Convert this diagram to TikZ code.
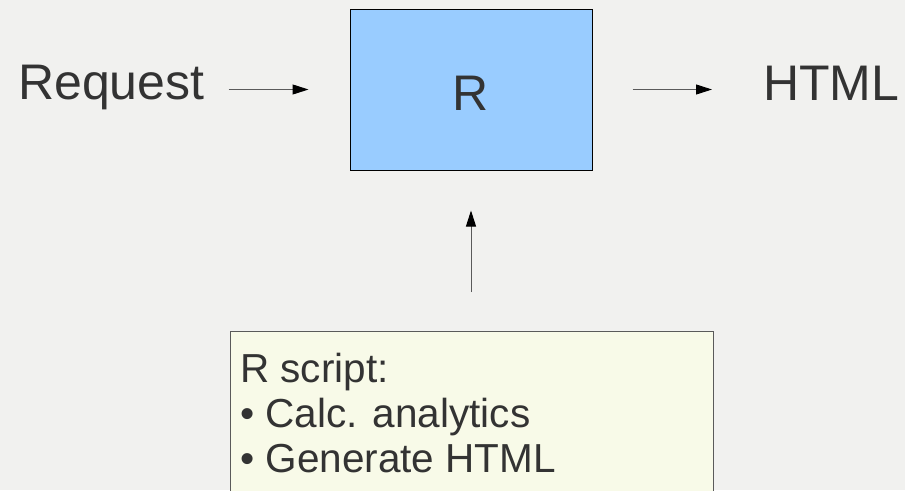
\documentclass[tikz,border=0pt]{standalone}
\usepackage{fontspec}
\setmainfont{Liberation Sans}
\usetikzlibrary{arrows.meta}
\definecolor{bgc}{RGB}{241,241,239}
\definecolor{rblue}{RGB}{153,204,255}
\definecolor{cream}{RGB}{248,250,232}
\definecolor{txt}{RGB}{51,51,51}
\definecolor{edge}{RGB}{90,90,90}
\tikzset{
  big/.style={font=\fontsize{50}{60}\selectfont, text=txt, inner sep=0pt},
  conn/.style={draw=edge, line width=1pt, -{Triangle[length=16pt,width=10pt,color=black,fill=black]}},
}
\begin{document}
\begin{tikzpicture}[x=1pt,y=-1pt]
\clip (0,0) rectangle (905,490);
\fill[bgc] (0,0) rectangle (905,490);
\node[big, anchor=base west] (req) at (18,99) {Request};
\node[big, anchor=base west] (html) at (763,100) {HTML};
\node[draw=black, line width=1pt, fill=rblue, minimum width=242pt, minimum height=161pt, inner sep=0pt] (box) at (471,89.5) {};
\node[big, anchor=base] (rlab) at (471,110) {R};
\node[draw=edge, line width=1pt, fill=cream, anchor=north west, minimum width=483pt, minimum height=200pt, inner sep=0pt] (script) at (230,331) {};
\node[anchor=north west, inner sep=0pt, align=left, text=txt, font=\fontsize{40.5}{45}\selectfont] (stext) at (240,353) {R script:\\• Calc. analytics\\• Generate HTML};
\draw[conn, shorten <=24pt, shorten >=41pt] (req.east |- box.west) -- (box.west);
\draw[conn, shorten <=40pt, shorten >=51pt] (box.east) -- (html.west |- box.east);
\draw[conn, shorten <=39pt, shorten >=40pt] (box.south |- script.north) -- (box.south);
\end{tikzpicture}
\end{document}
